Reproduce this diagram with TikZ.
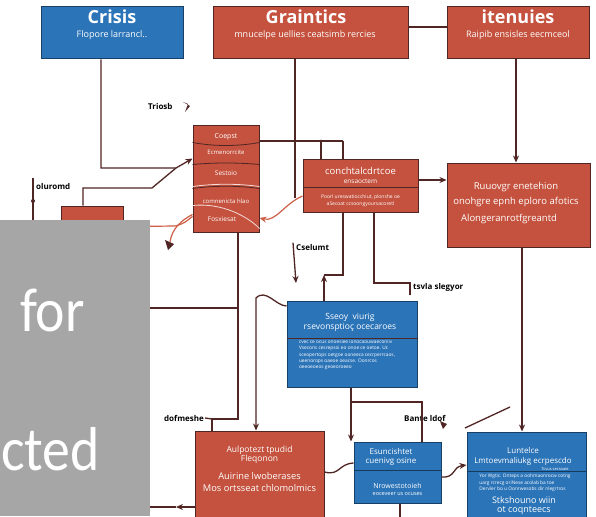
\documentclass[tikz,border=0pt]{standalone}
\usepackage{fontspec}
\setmainfont{Open Sans}
\newfontfamily\calibfont[FakeStretch=0.9]{Carlito}
\usetikzlibrary{arrows.meta,calc}

\definecolor{boxblue}{RGB}{43,116,184}
\definecolor{boxred}{RGB}{196,82,62}
\definecolor{wire}{RGB}{80,38,36}
\definecolor{redwire}{RGB}{205,95,70}
\definecolor{cover}{RGB}{166,166,166}

\tikzset{
  bluebox/.style={draw=boxblue!55!black, line width=1, fill=boxblue, inner sep=0},
  redbox/.style={draw=wire, line width=1, fill=boxred, inner sep=0},
  title/.style={text=white, font=\fontsize{18pt}{18pt}\selectfont\bfseries},
  sub/.style={text=white, font=\fontsize{8pt}{9.5pt}\selectfont, align=center},
  topsub/.style={sub, font=\fontsize{9pt}{9pt}\selectfont},
  tiny/.style={text=white, font=\fontsize{5pt}{6.5pt}\selectfont, align=center},
  lab/.style={text=black, font=\fontsize{8pt}{8pt}\selectfont\bfseries, inner sep=1},
  conn/.style={draw=wire, line width=1.3},
  arr/.style={conn, -{Stealth[length=7pt,width=6pt]}},
  redarr/.style={draw=redwire, line width=1.2, -{Stealth[length=7pt,width=6pt]}},
  divline/.style={draw=wire, line width=0.8},
}

\begin{document}
\begin{tikzpicture}[x=1pt,y=-1pt]
  \clip (0,0) rectangle (596,516);
  \fill[white] (0,0) rectangle (596,516);

  % top row
  \node[bluebox, minimum width=142, minimum height=52] (crisis) at (112,33) {};
  \node[title] (crisis-t) at (112,17) {Crisis};
  \node[topsub] (crisis-s) at (112,35) {Flopore larrancl..};
  \node[redbox, minimum width=195, minimum height=52] (graint) at (310.5,33) {};
  \node[title] (graint-t) at (306,17) {Graintics};
  \node[topsub] (graint-s) at (305,35) {mnucelpe uellies ceatsimb rercies};
  \node[redbox, minimum width=142, minimum height=52] (itenu) at (518,33) {};
  \node[title] (itenu-t) at (518,17) {itenuies};
  \node[topsub] (itenu-s) at (518,35) {Raipib ensisles eecmceol};

  % stacked box
  \node[redbox, minimum width=66, minimum height=107] (stack) at (226,178.5) {};
  \draw[divline] ([yshift=-18pt]stack.north west) .. controls +(22,4) and +(-22,4) .. ([yshift=-18pt]stack.north east);
  \draw[divline] ([yshift=-40pt]stack.north west) .. controls +(22,-2) and +(-22,-2) .. ([yshift=-40pt]stack.north east);
  \draw[divline, draw=white!80!boxred] ([yshift=-62pt]stack.north west) .. controls +(22,-3) and +(-22,-3) .. ([yshift=-62pt]stack.north east);
  \draw[divline] ([yshift=-64pt]stack.north west) .. controls +(22,-3) and +(-22,-3) .. ([yshift=-64pt]stack.north east);
  \draw[divline, draw=white!80!boxred] ([yshift=-81pt]stack.north west) .. controls +(30,-3) and +(-12,-12) .. ([yshift=4pt]stack.south east);
  \node[sub, font=\fontsize{7pt}{7pt}\selectfont] (st1) at (226,137) {Coepst};
  \node[sub, font=\fontsize{6pt}{6pt}\selectfont] (st2) at (226,152) {Ecmenorrcite};
  \node[sub, font=\fontsize{6.5pt}{6.5pt}\selectfont] (st3) at (226,173) {Sestoio};
  \node[sub, font=\fontsize{6pt}{6pt}\selectfont] (st4) at (226,201) {comnenicta hlao};
  \node[sub, font=\fontsize{6.5pt}{6.5pt}\selectfont] (st5) at (222,219) {Fosxiesat};

  % middle row
  \node[redbox, minimum width=115, minimum height=53] (concht) at (360.5,185.5) {};
  \draw[divline] ([yshift=-29pt]concht.north west) -- ([yshift=-29pt]concht.north east);
  \node[sub, font=\fontsize{9.5pt}{9.5pt}\selectfont] (concht-t) at (360.5,171) {conchtalcdrtcoe};
  \node[sub, font=\fontsize{6.5pt}{6.5pt}\selectfont] (concht-s) at (360.5,181) {ensaoctem};
  \node[tiny, font=\fontsize{5pt}{7pt}\selectfont] (concht-b) at (360.5,200.5) {Poorl ureswatiocchiut, plonshe oe\\aSecoat ccsoongyoursacoretl};
  \node[redbox, minimum width=143, minimum height=84] (ruuv) at (518.5,205) {};
  \node[sub, font=\fontsize{9.5pt}{9.5pt}\selectfont] (ruuv-a) at (516,187) {Ruuovgr enetehion};
  \node[sub, font=\fontsize{9.5pt}{9.5pt}\selectfont] (ruuv-b) at (516,202) {onohgre epnh eploro afotics};
  \node[sub, font=\fontsize{9.5pt}{9.5pt}\selectfont] (ruuv-c) at (509,219) {Alongeranrotfgreantd};
  \node[redbox, minimum width=62, minimum height=24] (smallred) at (92,218) {};

  % blue box in the middle
  \node[bluebox, minimum width=130, minimum height=86] (sseoy) at (352,344) {};
  \draw[divline] ([yshift=-38pt]sseoy.north west) -- ([yshift=-38pt]sseoy.north east);
  \node[sub, font=\fontsize{8.5pt}{10pt}\selectfont] (sseoy-t) at (350,322.5) {Sseoy \ viurig\\rsevonsptio\c{c} ocecaroes};
  \node[tiny, font=\fontsize{4.8pt}{6.4pt}\selectfont, align=left] (sseoy-b) at (347,355) {cvec ce ocus onoesiee ionocaouwaeconiiv\\Vsecons cesrepsoi eo onoe ce oetoe. Uc\\sceopertops oetgoe ooneeca cecrperrcaos,\\ueenorops oaeoe oeacse. Oonrcos\\oeeoeoeos geoeoroeeo};

  % bottom row
  \node[redbox, minimum width=129, minimum height=90] (aulp) at (259.5,476) {};
  \node[sub, font=\fontsize{8.5pt}{9.5pt}\selectfont] (aulp-t) at (259.5,455) {Aulpotezt tpudid\\Fleqonon};
  \node[sub, font=\fontsize{9.3pt}{12pt}\selectfont] (aulp-b) at (259.5,482) {Auirine lwoberases\\Mos ortsseat chlomolmics};
  \node[bluebox, minimum width=87, minimum height=61] (esunc) at (397.5,472.5) {};
  \draw[divline, draw=boxblue!50!black] ([yshift=-29pt]esunc.north west) -- ([yshift=-29pt]esunc.north east);
  \node[sub, font=\fontsize{8pt}{9pt}\selectfont] (esunc-t) at (391,457) {Esuncishtet\\cuenivg osine};
  \node[sub, font=\fontsize{7pt}{8.5pt}\selectfont] (esunc-b) at (397.5,489.5) {Nrowestotoieh\\[-1pt]{\fontsize{5.5pt}{6pt}\selectfont eoceveer us ocuses}};
  \node[bluebox, minimum width=119, minimum height=88] (lunt) at (526.5,476) {};
  \draw[divline, draw=boxblue!50!black] ([yshift=-40pt]lunt.north west) -- ([yshift=-40pt]lunt.north east);
  \node[sub, font=\fontsize{8pt}{10pt}\selectfont] (lunt-t) at (523,456) {Luntelce\\Lmtoevmaliukg ecrpescdo};
  \node[tiny, font=\fontsize{4pt}{4pt}\selectfont] (lunt-r) at (555,469) {Tcvus secsoaie};
  \node[tiny, font=\fontsize{4.8pt}{6.6pt}\selectfont, align=left] (lunt-b) at (525,483) {Yor Wgtic. Dnteps a oohmaonrocw cotng\\uarg rcrecg oriNese acolab ba toe\\Dervler bo u Oonrwesobs dir nlegrtros};
  \node[sub, font=\fontsize{9pt}{9pt}\selectfont] (lunt-s) at (524,505.5) {Stkshouno wiin\\ot coqnteecs};

  % labels
  \node[lab, anchor=west] (triosb) at (147,107) {Triosb};
  \fill[wire] (183,102) -- (190,106) -- (185,112) -- (188,104) -- cycle;
  \node[lab, anchor=west] (oluromd) at (35,186) {oluromd};
  \node[lab, anchor=west] (cselumt) at (295,247) {Cselumt};
  \node[lab, anchor=west] (tsvla) at (412,287) {tsvla slegyor};
  \node[lab, anchor=east] (dofmeshe) at (205,418) {dofmeshe};
  \node[lab, anchor=west, fill=white] (bante) at (403,418) {Bante ldof};
  \fill[wire] (440,421) -- (447,424) -- (443,429) -- (441,424) -- cycle;

  % bend points
  \coordinate (c1turn) at (176,168);
  \coordinate (c17turn) at (152,188);
  \coordinate (g2end) at (295,198);
  \coordinate (c3a) at (321,141);
  \coordinate (c3end) at (343,141);
  \coordinate (c8turn) at (324,275);
  \coordinate (c9end) at (410,283);
  \coordinate (c10turn) at (212,419);
  \coordinate (c10mid) at (238,308);
  \coordinate (c11top) at (256,298);
  \coordinate (c12a) at (351,402);
  \coordinate (c15a) at (465,428);
  \coordinate (c15b) at (510,407);
  \coordinate (c19end) at (170,242);
  \coordinate (c20end) at (176,507);
  \coordinate (cshook) at (296,283);
  \coordinate (olutop) at (33,178);

  % connectors
  \draw[arr] ([xshift=-11pt]crisis.south) |- (c1turn) -- ([yshift=20pt]stack.west);
  \draw[conn] ([xshift=-9pt]smallred.north) |- (c17turn) -- (c1turn);
  \draw[conn] (olutop) -- ++(0,52);
  \fill[wire] (33,201) circle (2);
  \draw[conn] ([xshift=-15.5pt]graint.south) -- (g2end);
  \draw[conn] ([yshift=6pt]graint.east) -- ([yshift=6pt]graint.east -| itenu.west);
  \draw[conn] ([yshift=37.5pt]stack.east) -- (c3end);
  \fill[wire] (c3a) circle (1.5);
  \draw[conn] (c3a) -- (c3a |- concht.north);
  \draw[conn] (c3end) -- (c3end |- concht.north);
  \draw[arr] ([yshift=5.5pt]concht.east) -- ([yshift=5.5pt]concht.east -| ruuv.west);
  \draw[arr] ([xshift=-2pt]itenu.south) -- ([xshift=-2pt]itenu.south |- ruuv.north);
  \draw[arr] ([xshift=3.5pt]ruuv.south) -- ([xshift=3.5pt]ruuv.south |- lunt.north);
  \draw[arr] ([xshift=-28pt]sseoy.north) -- (c8turn);
  \draw[conn] (c8turn) -| ([xshift=-17.5pt]concht.south);
  \draw[conn] ([xshift=13.5pt]concht.south) |- (c9end) -- ++(0,12);
  \draw[arr] ([xshift=-2pt]cselumt.north west) -- (cshook);
  \draw[conn] ([xshift=12pt]stack.south) |- (c10turn) -- (c10turn |- aulp.north);
  \draw[conn] (dofmeshe.east) -- (c10turn);
  \draw[conn] (c10mid) -- (0,308);
  \draw[arr] ([yshift=38pt]sseoy.west) .. controls (276,306) and (266,288) .. (c11top) -- (c11top |- aulp.north);
  \draw[arr] ([xshift=-1pt]sseoy.south) -- ([xshift=-1pt]sseoy.south |- esunc.north);
  \draw[conn] (c12a) -| ([xshift=24.5pt]esunc.north);
  \draw[conn] ([yshift=4pt]aulp.east) .. controls (340,476) and (338,464) .. ([yshift=9.5pt]esunc.west);
  \draw[arr] ([yshift=-4.5pt]esunc.east) .. controls (456,478) and (452,467) .. ([yshift=11pt]lunt.west);
  \draw[conn] (c15a) -- (c15b);
  \draw[conn] ([xshift=2.5pt]esunc.south) -- ++(0,20);
  \draw[redarr] ([yshift=-10.5pt]concht.west) .. controls (284,204) and (276,222) .. ([yshift=-39.5pt]stack.east);
  \draw[redwire, line width=1.2] (0,228) -- (175,226) .. controls (185,224) and (190,218) .. ([yshift=-38pt]stack.west);
  \draw[redwire, line width=1.2] ([yshift=-36pt]stack.west) .. controls (182,220) and (172,228) .. (c19end);
  \fill[wire] (c19end) ++(-5,-2) -- ++(9,4) -- ++(-6,6) -- cycle;
  \draw[arr] ([yshift=-31pt]aulp.west) -- (c20end);
  \draw[conn] (c20end) -- (c20end -| 0,0);

  % grey cover
  \node[fill=cover, minimum width=150, minimum height=296, inner sep=0, anchor=north west] (cover) at (0,220) {};
  \node[text=white, font=\calibfont\fontsize{62pt}{62pt}\selectfont, anchor=base east, inner sep=0] (for) at (85,331) {for};
  \node[text=white, font=\calibfont\fontsize{62pt}{62pt}\selectfont, anchor=base west, inner sep=0] (cted) at (1,470) {cted};
\end{tikzpicture}
\end{document}
